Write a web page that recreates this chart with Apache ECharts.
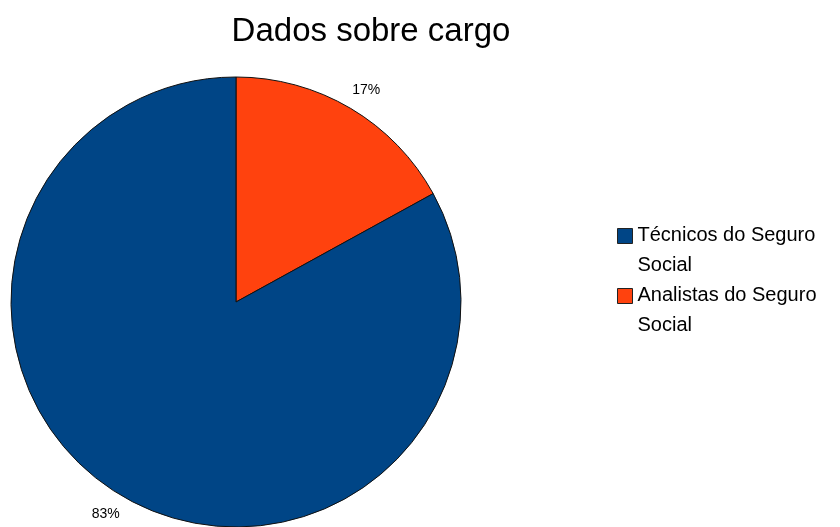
<!DOCTYPE html>
<html>
<head>
<meta charset="utf-8">
<script src="https://cdn.jsdelivr.net/npm/echarts@6/dist/echarts.min.js"></script>
<style>
  html, body { margin: 0; padding: 0; background: #fff; }
  #box { width: 840px; height: 527px; }
</style>
</head>
<body>
<div id="box"></div>
<script>
// dados do gráfico
var titulo = 'Dados sobre cargo'
var categorias = ['Analistas do Seguro Social', 'Técnicos do Seguro Social']
var valores = [17, 83]
var cores = ['#ff420e', '#004586']
// ordem da legenda
var ordemLegenda = ['Técnicos do Seguro Social', 'Analistas do Seguro Social']

var myChart = echarts.init(document.getElementById('box'))

// quebra "... do Seguro" / "Social" em duas linhas
function legendaFormatter(name) {
  var i = name.lastIndexOf(' ')
  return '{a|' + name.slice(0, i) + '}\n{b|' + name.slice(i + 1) + '}'
}

myChart.setOption({
  animation: false,
  backgroundColor: '#fff',
  textStyle: { fontFamily: 'Liberation Sans, Arial, sans-serif' },
  title: {
    text: titulo,
    left: 371,
    top: 15,
    padding: 0,
    textAlign: 'center',
    textStyle: { fontSize: 33, fontWeight: 'normal', color: '#000' }
  },
  legend: {
    orient: 'vertical',
    left: 617,
    top: 225,
    padding: 0,
    itemGap: 10,
    itemWidth: 15,
    itemHeight: 15,
    icon: 'rect',
    data: ordemLegenda,
    formatter: legendaFormatter,
    itemStyle: { borderColor: '#222', borderWidth: 1 },
    textStyle: {
      color: '#000',
      fontSize: 20,
      rich: {
        a: { fontSize: 20, lineHeight: 58, color: '#000' },
        b: { fontSize: 20, lineHeight: 2, color: '#000' }
      }
    }
  },
  series: [{
    type: 'pie',
    center: [236, 302],
    radius: 225,
    startAngle: 90,
    clockwise: true,
    avoidLabelOverlap: false,
    data: categorias.map(function (c, i) {
      return { name: c, value: valores[i], itemStyle: { color: cores[i] } }
    }),
    itemStyle: { borderColor: '#111', borderWidth: 1 },
    label: {
      show: true,
      position: 'outside',
      formatter: '{d}%',
      color: '#000',
      fontSize: 14
    },
    labelLine: { show: false, length: 21, length2: 0 },
    labelLayout: { align: 'center' },
    emphasis: { disabled: true }
  }]
})
</script>
</body>
</html>
